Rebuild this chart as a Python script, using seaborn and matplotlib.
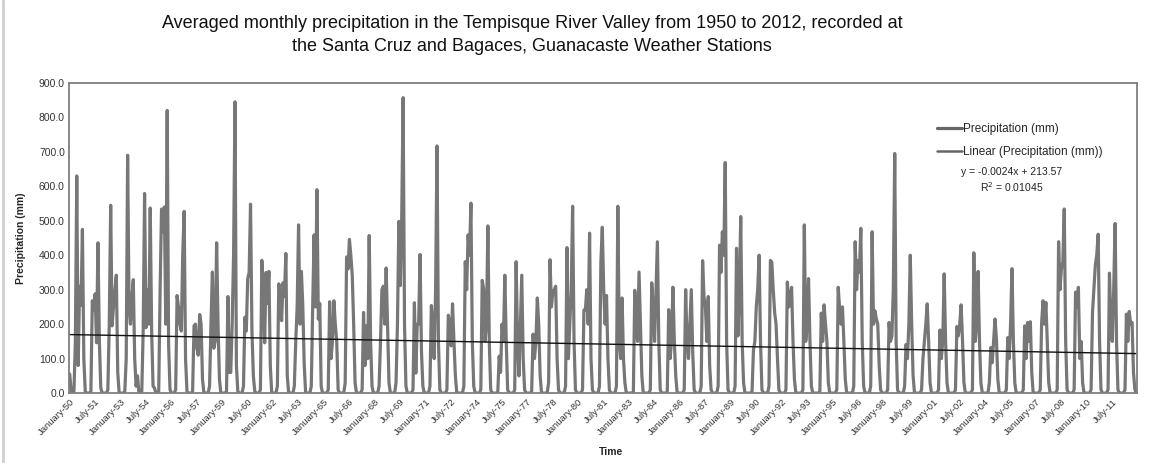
import numpy as np
import pandas as pd
import matplotlib
matplotlib.use("Agg")
import matplotlib.pyplot as plt
import seaborn as sns
from matplotlib.lines import Line2D

# ---------------- data (monthly precipitation, mm) ----------------
precip_1950s = [
    55, 8, 0, 5, 150, 630, 80, 310, 255, 475, 100, 5,        # 1950
    0, 0, 0, 5, 268, 240, 288, 146, 436, 150, 15, 0,          # 1951
    0, 0, 0, 10, 200, 545, 195, 250, 300, 342, 60, 0,         # 1952
    0, 0, 0, 5, 100, 690, 250, 200, 280, 329, 100, 20,        # 1953
    50, 0, 0, 0, 180, 579, 190, 300, 200, 537, 180, 20,       # 1954
    15, 0, 0, 5, 300, 534, 468, 540, 200, 820, 140, 10,       # 1955
    0, 0, 0, 10, 283, 250, 200, 180, 400, 527, 100, 5,        # 1956
    0, 0, 0, 5, 195, 200, 130, 110, 228, 200, 40, 0,          # 1957
    0, 0, 0, 20, 200, 351, 130, 150, 436, 200, 40, 0,         # 1958
    0, 0, 0, 5, 280, 60, 60, 200, 400, 845, 80, 5,            # 1959
]
precip_1960s = [
    0, 0, 0, 20, 220, 180, 332, 350, 548, 180, 50, 5,         # 1960
    0, 0, 0, 10, 385, 300, 146, 350, 260, 353, 80, 0,         # 1961
    0, 0, 0, 20, 317, 290, 210, 320, 280, 405, 50, 0,         # 1962
    0, 0, 0, 20, 150, 250, 488, 200, 353, 254, 83, 0,         # 1963
    0, 0, 0, 20, 250, 459, 250, 590, 215, 260, 20, 0,         # 1964
    0, 0, 0, 10, 265, 100, 150, 268, 200, 150, 10, 0,         # 1965
    0, 0, 0, 30, 395, 360, 446, 400, 342, 200, 30, 0,         # 1966
    0, 0, 0, 10, 234, 80, 195, 100, 457, 150, 20, 0,          # 1967
    0, 0, 0, 20, 150, 300, 310, 200, 363, 200, 30, 0,         # 1968
    0, 0, 0, 30, 200, 498, 312, 500, 857, 200, 20, 0,         # 1969
]
precip_1970s = [
    0, 0, 0, 10, 262, 58, 200, 200, 402, 120, 20, 0,          # 1970
    0, 0, 0, 20, 254, 200, 100, 300, 717, 150, 10, 0,         # 1971
    0, 0, 0, 10, 226, 200, 137, 259, 150, 50, 0, 0,           # 1972
    0, 0, 0, 20, 381, 300, 459, 400, 551, 150, 20, 0,         # 1973
    0, 0, 0, 10, 327, 303, 150, 200, 485, 150, 10, 0,         # 1974
    0, 0, 0, 0, 107, 60, 200, 150, 342, 150, 10, 0,           # 1975
    0, 0, 0, 10, 381, 150, 50, 200, 342, 100, 10, 0,          # 1976
    0, 0, 0, 5, 171, 100, 150, 276, 200, 50, 0, 0,            # 1977
    0, 0, 0, 30, 387, 250, 293, 300, 310, 100, 10, 0,         # 1978
    0, 0, 0, 20, 422, 100, 200, 300, 542, 150, 10, 0,         # 1979
]
precip_1980s = [
    0, 0, 0, 10, 241, 240, 300, 200, 464, 100, 10, 0,         # 1980
    0, 0, 0, 20, 381, 481, 300, 200, 283, 100, 10, 0,         # 1981
    0, 0, 0, 20, 542, 150, 100, 276, 100, 30, 0, 0,           # 1982
    0, 0, 0, 5, 298, 200, 150, 351, 200, 50, 0, 0,            # 1983
    0, 0, 0, 10, 320, 250, 150, 300, 439, 150, 10, 0,         # 1984
    0, 0, 0, 5, 242, 100, 150, 307, 150, 50, 0, 0,            # 1985
    0, 0, 0, 10, 300, 150, 100, 200, 300, 120, 10, 0,         # 1986
    0, 0, 0, 20, 384, 278, 250, 150, 280, 80, 10, 0,          # 1987
    0, 0, 0, 20, 429, 350, 468, 400, 669, 150, 10, 0,         # 1988
    0, 0, 0, 20, 420, 166, 300, 512, 150, 30, 0, 0,           # 1989
]
precip_1990s = [
    0, 0, 0, 5, 125, 150, 250, 300, 400, 150, 10, 0,          # 1990
    0, 0, 0, 20, 385, 380, 300, 234, 200, 100, 10, 0,         # 1991
    0, 0, 0, 10, 322, 250, 280, 307, 150, 40, 0, 0,           # 1992
    0, 0, 0, 10, 488, 150, 200, 332, 150, 20, 0, 0,           # 1993
    0, 0, 0, 5, 232, 150, 256, 200, 150, 30, 0, 0,            # 1994
    0, 0, 0, 10, 307, 244, 200, 250, 150, 40, 0, 0,           # 1995
    0, 0, 0, 20, 439, 300, 385, 350, 478, 150, 20, 0,         # 1996
    0, 0, 0, 20, 468, 200, 239, 215, 200, 80, 10, 0,          # 1997
    0, 0, 0, 10, 205, 150, 166, 300, 695, 150, 10, 0,         # 1998
    0, 0, 0, 20, 141, 100, 200, 400, 200, 50, 0, 0,           # 1999
]
precip_2000s = [
    0, 0, 0, 10, 100, 150, 200, 259, 150, 30, 0, 0,           # 2000
    0, 0, 0, 10, 183, 100, 150, 346, 150, 30, 0, 0,           # 2001
    0, 0, 0, 10, 193, 166, 200, 256, 150, 30, 0, 0,           # 2002
    0, 0, 0, 10, 407, 150, 200, 353, 150, 30, 0, 0,           # 2003
    0, 0, 0, 30, 132, 88, 150, 215, 156, 40, 0, 0,            # 2004
    0, 0, 0, 10, 161, 100, 200, 361, 150, 30, 0, 0,           # 2005
    0, 0, 0, 10, 195, 100, 205, 150, 207, 60, 0, 0,           # 2006
    0, 0, 0, 10, 205, 268, 200, 263, 150, 30, 0, 0,           # 2007
    0, 0, 0, 10, 439, 300, 361, 380, 534, 150, 10, 0,         # 2008
    0, 0, 0, 10, 293, 250, 307, 100, 150, 30, 0, 0,           # 2009
]
precip_2010s = [
    0, 0, 0, 10, 234, 300, 371, 400, 461, 150, 10, 0,         # 2010
    0, 0, 0, 10, 348, 200, 150, 300, 492, 150, 10, 0,         # 2011
    0, 0, 0, 10, 229, 150, 237, 200, 205, 60, 10, 0,          # 2012
]

start_month = "1950-01-01"

xtick_labels = ["January-50", "July-51", "January-53", "July-54", "January-56", "July-57",
                "January-59", "July-60", "January-62", "July-63", "January-65", "July-66",
                "January-68", "July-69", "January-71", "July-72", "January-74", "July-75",
                "January-77", "July-78", "January-80", "July-81", "January-83", "July-84",
                "January-86", "July-87", "January-89", "July-90", "January-92", "July-93",
                "January-95", "July-96", "January-98", "July-99", "January-01", "July-02",
                "January-04", "July-05", "January-07", "July-08", "January-10", "July-11"]
yticks = [0, 100, 200, 300, 400, 500, 600, 700, 800, 900]

# trend line as printed on the chart (x = Excel date serial)
trend_slope = -0.0024
trend_intercept = 213.57
trend_text = "y = -0.0024x + 213.57\nR$^2$ = 0.01045"

# ---------------- build frame ----------------
values = (precip_1950s + precip_1960s + precip_1970s + precip_1980s +
          precip_1990s + precip_2000s + precip_2010s)
dates = pd.date_range(start_month, periods=len(values), freq="MS")
serial = (dates - pd.Timestamp("1899-12-30")).days.values
df = pd.DataFrame({"idx": np.arange(len(values)), "precip": values,
                   "trend": trend_slope * serial + trend_intercept})

# ---------------- plot ----------------
sns.set_style("white")
plt.rcParams["font.family"] = ["Liberation Sans", "DejaVu Sans"]

fig = plt.figure(figsize=(11.5, 4.63), dpi=100)
ax = fig.add_axes([0.060, 0.151, 0.9287, 0.670])

sns.lineplot(data=df, x="idx", y="precip", ax=ax, color="#777777", linewidth=2.3,
             label="Precipitation (mm)")
sns.lineplot(data=df, x="idx", y="trend", ax=ax, color="#111111", linewidth=1.0,
             label="Linear (Precipitation (mm))")

ax.set_xlim(-0.5, len(values) - 0.5)
ax.set_ylim(0, 900)
ax.set_yticks(yticks)
ax.set_yticklabels([f"{v:.1f}" for v in yticks], fontsize=7.5, color="#333333")
tick_pos = np.arange(len(xtick_labels)) * 18
ax.set_xticks(tick_pos)
ax.set_xticklabels(xtick_labels, rotation=45, ha="right", rotation_mode="anchor",
                   fontsize=6.8, color="#333333")
ax.tick_params(axis="both", length=0, pad=3)

for s in ax.spines.values():
    s.set_color("#7f7f7f")
    s.set_linewidth(1.3)

ax.set_ylabel("Precipitation (mm)", fontsize=7.5, fontweight="bold", labelpad=9)
ax.set_xlabel("")
fig.text(611 / 1150, 1 - 452 / 463, "Time", fontsize=7.5, fontweight="bold",
         ha="center", va="center")

leg = ax.legend(loc="upper left", bbox_to_anchor=(0.813, 0.870), frameon=False,
                fontsize=8.5, handlelength=2.1, handletextpad=0.05,
                labelspacing=0.95, borderaxespad=0, borderpad=0)
leg.get_lines()[0].set_color("#666666")
leg.get_lines()[0].set_linewidth(2.3)
leg.get_lines()[1].set_color("#666666")
leg.get_lines()[1].set_linewidth(1.8)
ax.text(0.883, 0.728, trend_text, transform=ax.transAxes, ha="center", va="top",
        fontsize=7.5, linespacing=1.25, color="#222222")

fig.text(532 / 1150, 1 - 35 / 463,
         "Averaged monthly precipitation in the Tempisque River Valley from 1950 to 2012, recorded at\n"
         "the Santa Cruz and Bagaces, Guanacaste Weather Stations",
         ha="center", va="center", fontsize=13, linespacing=1.45, color="#111111")

fig.add_artist(Line2D([3 / 1150, 3 / 1150], [0, 1], transform=fig.transFigure,
                      color="#d0d0d0", linewidth=2))

fig.savefig("out.png", dpi=100)
